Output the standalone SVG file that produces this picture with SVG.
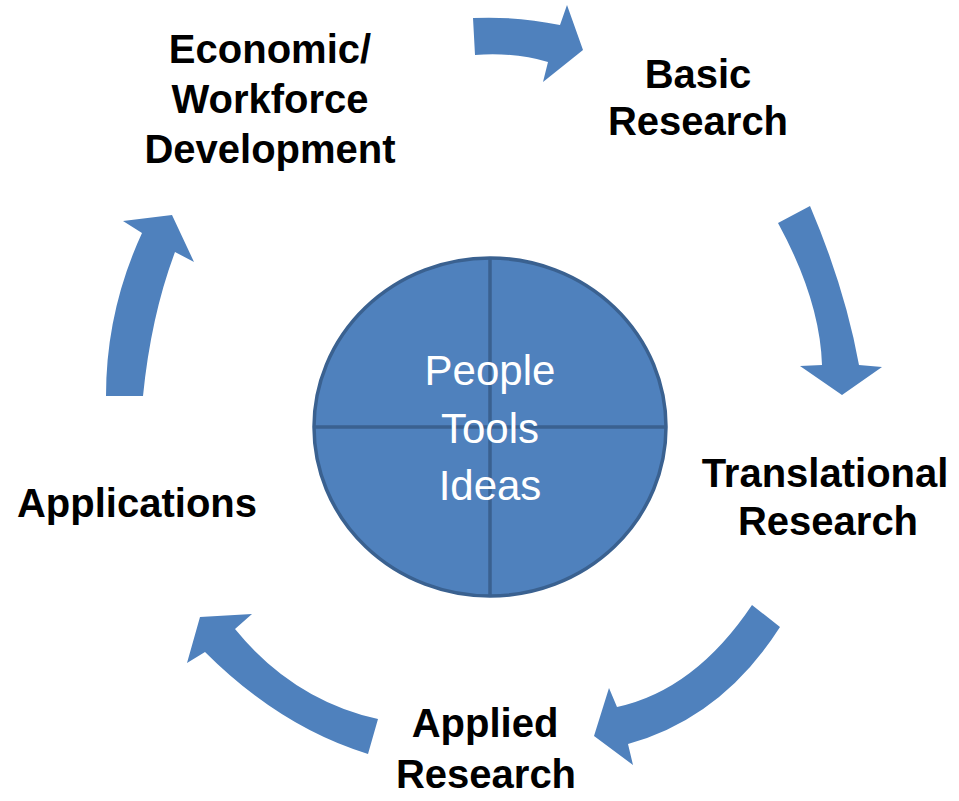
<svg xmlns="http://www.w3.org/2000/svg" width="959" height="801" viewBox="0 0 959 801">
<style>
.arrow{fill:#4F81BD;stroke:none}
.lbl{font-family:"Liberation Sans",Arial,sans-serif;font-weight:bold;font-size:40px;fill:#000;text-anchor:middle}
.ctr{font-family:"Liberation Sans",Arial,sans-serif;font-size:42px;fill:#fff;text-anchor:middle}
.hub{fill:#4F81BD;stroke:#3A6190;stroke-width:3.5}
.div{stroke:#3A6190;stroke-width:3.5;fill:none}
</style>
<rect width="959" height="801" fill="#fff"/>
<g id="hub">
<ellipse class="hub" cx="490" cy="427" rx="176" ry="169"/>
<line class="div" x1="490" y1="258" x2="490" y2="596"/>
<line class="div" x1="314" y1="427" x2="666" y2="427"/>
<text class="ctr" x="490" y="385">People</text>
<text class="ctr" x="490" y="443">Tools</text>
<text class="ctr" x="490" y="500">Ideas</text>
</g>
<g id="connectors">
<path class="arrow" d="M473,18 Q517,16 560,25 L567,5 L583,50 L543,82 L548,62 Q514,52 475,55 Z"/>
<path class="arrow" d="M810,206 Q845,288 859,365 L882,367 L842,395 L800,366 L822,365 Q820,300 778,223 Z"/>
<path class="arrow" d="M752,605 Q695,690 617,707 L609,688 L594,736 L633,765 L628,744 Q722,718 780,627 Z"/>
<path class="arrow" d="M378,719 Q293,700 235,629 L252,614 L200,617 L187,663 L205,652 Q280,727 368,754 Z"/>
<path class="arrow" d="M106,396 Q106,311 142,233 L123,221 L172,215 L194,262 L175,252 Q151,316 143,396 Z"/>
</g>
<g id="economic">
<text class="lbl" x="270" y="63">Economic/</text>
<text class="lbl" x="270" y="113">Workforce</text>
<text class="lbl" x="270" y="163">Development</text>
</g>
<g id="basic">
<text class="lbl" x="698" y="88">Basic</text>
<text class="lbl" x="698" y="135">Research</text>
</g>
<g id="translational">
<text class="lbl" x="825" y="487">Translational</text>
<text class="lbl" x="828" y="535">Research</text>
</g>
<g id="applied">
<text class="lbl" x="485" y="737">Applied</text>
<text class="lbl" x="486" y="788">Research</text>
</g>
<g id="applications">
<text class="lbl" x="137" y="517">Applications</text>
</g>
</svg>
